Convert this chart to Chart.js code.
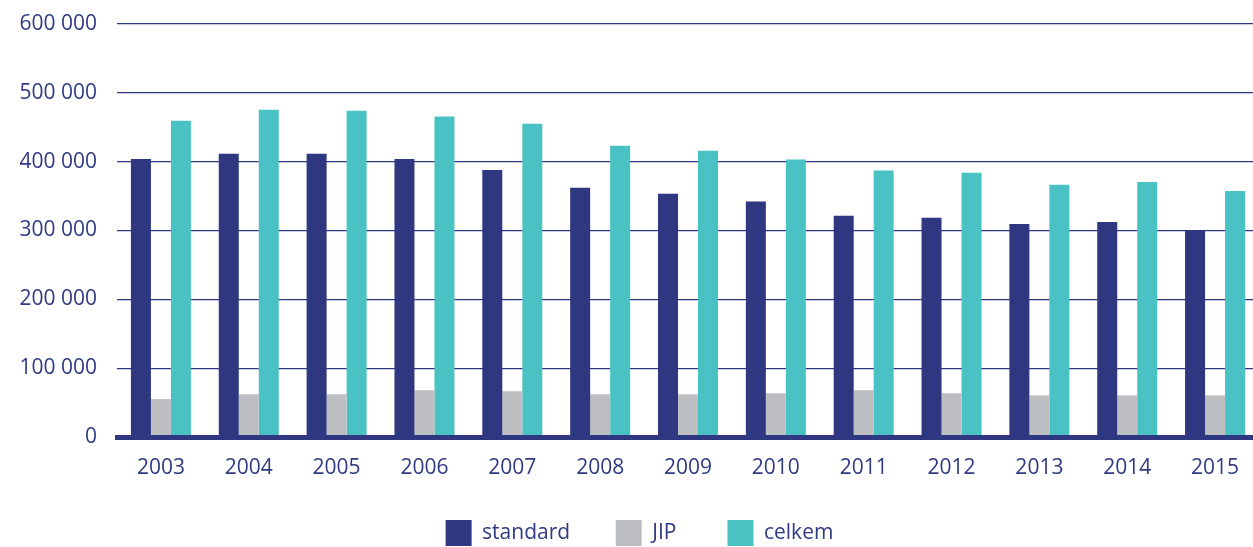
<!DOCTYPE html>
<html>
<head>
<meta charset="utf-8">
<script src="https://cdn.jsdelivr.net/npm/chart.js@4"></script>
<style>
  body { margin: 0; background: #fff; overflow: hidden; }
  #wrap { width: 1262px; height: 547px; }
</style>
</head>
<body>
<div id="wrap"><canvas id="myChart"></canvas></div>
<script>
const years = ['2003','2004','2005','2006','2007','2008','2009','2010','2011','2012','2013','2014','2015'];
const standard = [404000, 411500, 411500, 404000, 388000, 362000, 353500, 342000, 321500, 318500, 309500, 312500, 299500];
const jip = [55000, 62000, 62000, 68000, 66500, 62000, 62000, 63500, 68000, 63500, 60500, 60500, 60500];
const celkem = [459500, 475500, 474000, 465500, 455000, 423000, 416000, 403000, 387000, 384000, 366500, 370500, 357500];
const yTicks = [0, 100000, 200000, 300000, 400000, 500000, 600000];

const navy = '#2e3780';
const textColor = '#2f3a83';

Chart.defaults.font.family = '"Open Sans", sans-serif';
Chart.defaults.font.size = 21;
Chart.defaults.color = textColor;

const ctx = document.getElementById('myChart').getContext('2d');
const data = {
  labels: years,
  datasets: [
    { label: 'standard', data: standard, backgroundColor: navy },
    { label: 'JIP', data: jip, backgroundColor: '#bdbec1' },
    { label: 'celkem', data: celkem, backgroundColor: '#4ac1c2' }
  ]
};

// extra spaces after legend texts to spread the items like the original
const legendGaps = [8, 9, 0];

const config = {
  type: 'bar',
  data: data,
  options: {
    responsive: true,
    maintainAspectRatio: false,
    animation: false,
    layout: { padding: { top: 24, left: 20, right: 3, bottom: -9 } },
    datasets: { bar: { categoryPercentage: 0.683, barPercentage: 1 } },
    scales: {
      x: {
        grid: { display: false, drawTicks: false },
        border: { display: true, color: navy, width: 5, z: 1 },
        ticks: { padding: 18 },
        afterFit: s => { s.height = 81; }
      },
      y: {
        min: 0,
        max: 600000,
        afterBuildTicks: s => { s.ticks = yTicks.map(v => ({ value: v })); },
        afterFit: s => { s.width = 97; s.paddingTop = 12; s.paddingBottom = 12; },
        grid: { color: navy, lineWidth: 1.2, drawTicks: false },
        border: { display: false },
        ticks: {
          padding: 20,
          callback: v => v === 0 ? '0' : String(v).replace(/\B(?=(\d{3})+(?!\d))/g, ' ')
        }
      }
    },
    plugins: {
      legend: {
        position: 'bottom',
        labels: {
          boxWidth: 26, boxHeight: 26, padding: 2, font: { size: 21 },
          generateLabels: chart => {
            const items = Chart.defaults.plugins.legend.labels.generateLabels(chart);
            items.forEach((it, i) => {
              it.lineWidth = 0;
              it.text = it.text + '\u00a0'.repeat(legendGaps[i]);
            });
            return items;
          }
        }
      },
      tooltip: { enabled: false }
    }
  }
};
const myChart = new Chart(ctx, config);
</script>
</body>
</html>
